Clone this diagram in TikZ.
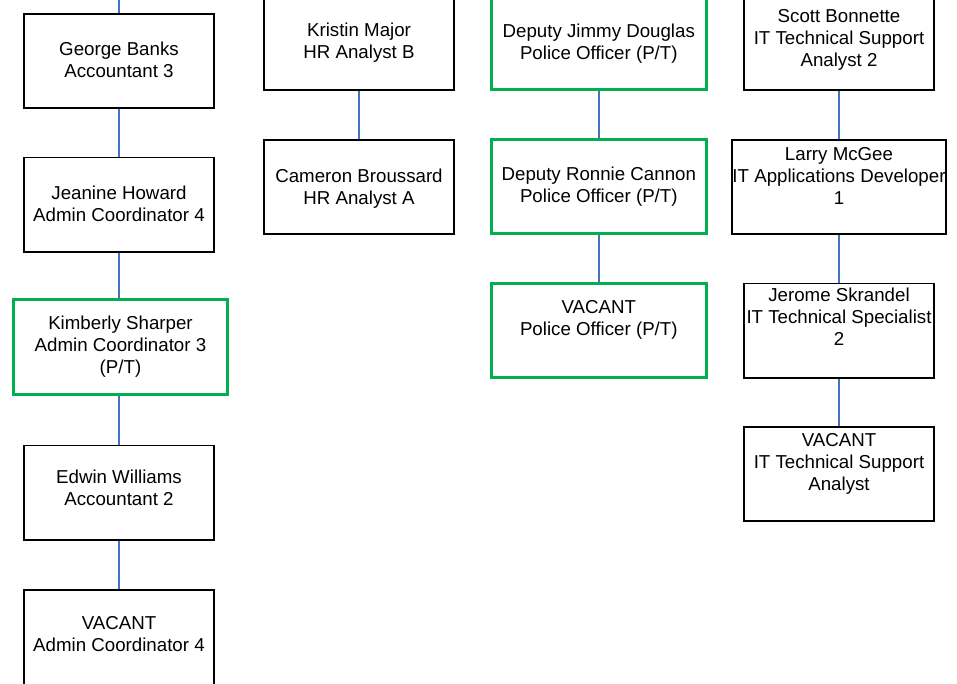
\documentclass[tikz,border=0pt]{standalone}
\usepackage{fontspec}
\setmainfont{Liberation Sans}
\usepackage{tikz}
\usetikzlibrary{positioning}
\definecolor{link}{HTML}{4472C4}
\definecolor{parttime}{HTML}{00B050}
\tikzset{
  box/.style={draw=black, line width=1.7pt, minimum width=190.3pt, minimum height=94.3pt, inner sep=0pt},
  widebox/.style={box, minimum width=214.3pt},
  ptbox/.style={box, draw=parttime, line width=3pt, minimum width=214.5pt, minimum height=94.5pt},
  who/.style={font=\fontsize{18.7}{22}\selectfont, align=center, inner sep=0pt},
  conn/.style={draw=link, line width=1.4pt},
}
\begin{document}
\begin{tikzpicture}[x=1pt,y=-1pt]
  \useasboundingbox (0,0) rectangle (957,683);
  \clip (0,0) rectangle (957,683);
  % finance / admin column
  \node[box] (gb) at (119,61) {};
  \node[who, below=29pt of gb.north] (gb-t) {George Banks\\Accountant 3};
  \node[box] (jh) at (119,204.5) {};
  \node[who, below=29.5pt of jh.north] (jh-t) {Jeanine Howard\\Admin Coordinator 4};
  \node[ptbox] (ks) at (120.5,347.2) {};
  \node[who, below=17pt of ks.north] (ks-t) {Kimberly Sharper\\Admin Coordinator 3\\(P/T)};
  \node[box] (ew) at (119,492.5) {};
  \node[who, below=25.5pt of ew.north] (ew-t) {Edwin Williams\\Accountant 2};
  \node[box, minimum height=102pt] (va) at (119,640.8) {};
  \node[who, below=27.5pt of va.north] (va-t) {VACANT\\Admin Coordinator 4};
  % HR column
  \node[box] (km) at (359,43) {};
  \node[who, below=28pt of km.north] (km-t) {Kristin Major\\HR Analyst B};
  \node[box] (cb) at (359,187) {};
  \node[who, below=30pt of cb.north] (cb-t) {Cameron Broussard\\HR Analyst A};
  % police column
  \node[ptbox] (jd) at (598.8,42.2) {};
  \node[who, below=30pt of jd.north] (jd-t) {Deputy Jimmy Douglas\\Police Officer (P/T)};
  \node[ptbox] (rc) at (598.8,186.7) {};
  \node[who, below=29pt of rc.north] (rc-t) {Deputy Ronnie Cannon\\Police Officer (P/T)};
  \node[ptbox] (vp) at (598.8,330.5) {};
  \node[who, below=18.5pt of vp.north] (vp-t) {VACANT\\Police Officer (P/T)};
  % IT column
  \node[box] (sb) at (839,43) {};
  \node[who, below=14pt of sb.north] (sb-t) {Scott Bonnette\\IT Technical Support\\Analyst 2};
  \node[widebox] (lm) at (839,187) {};
  \node[who, below=8.5pt of lm.north] (lm-t) {Larry McGee\\IT Applications Developer\\1};
  \node[box] (js) at (839,330.5) {};
  \node[who, below=5pt of js.north] (js-t) {Jerome Skrandel\\IT Technical Specialist\\2};
  \node[box] (vi) at (839,474) {};
  \node[who, below=7.5pt of vi.north] (vi-t) {VACANT\\IT Technical Support\\Analyst};
  % reporting lines
  \coordinate (up) at (119,-10);
  \draw[conn] (up) -- (gb.north);
  \draw[conn] (jh.south) -- (jh.south |- ks.north);
  \foreach \a/\b in {gb/jh, ks/ew, ew/va, km/cb, jd/rc, rc/vp, sb/lm, lm/js, js/vi}
    \draw[conn] (\b.north |- \a.south) -- (\b.north);
\end{tikzpicture}
\end{document}
